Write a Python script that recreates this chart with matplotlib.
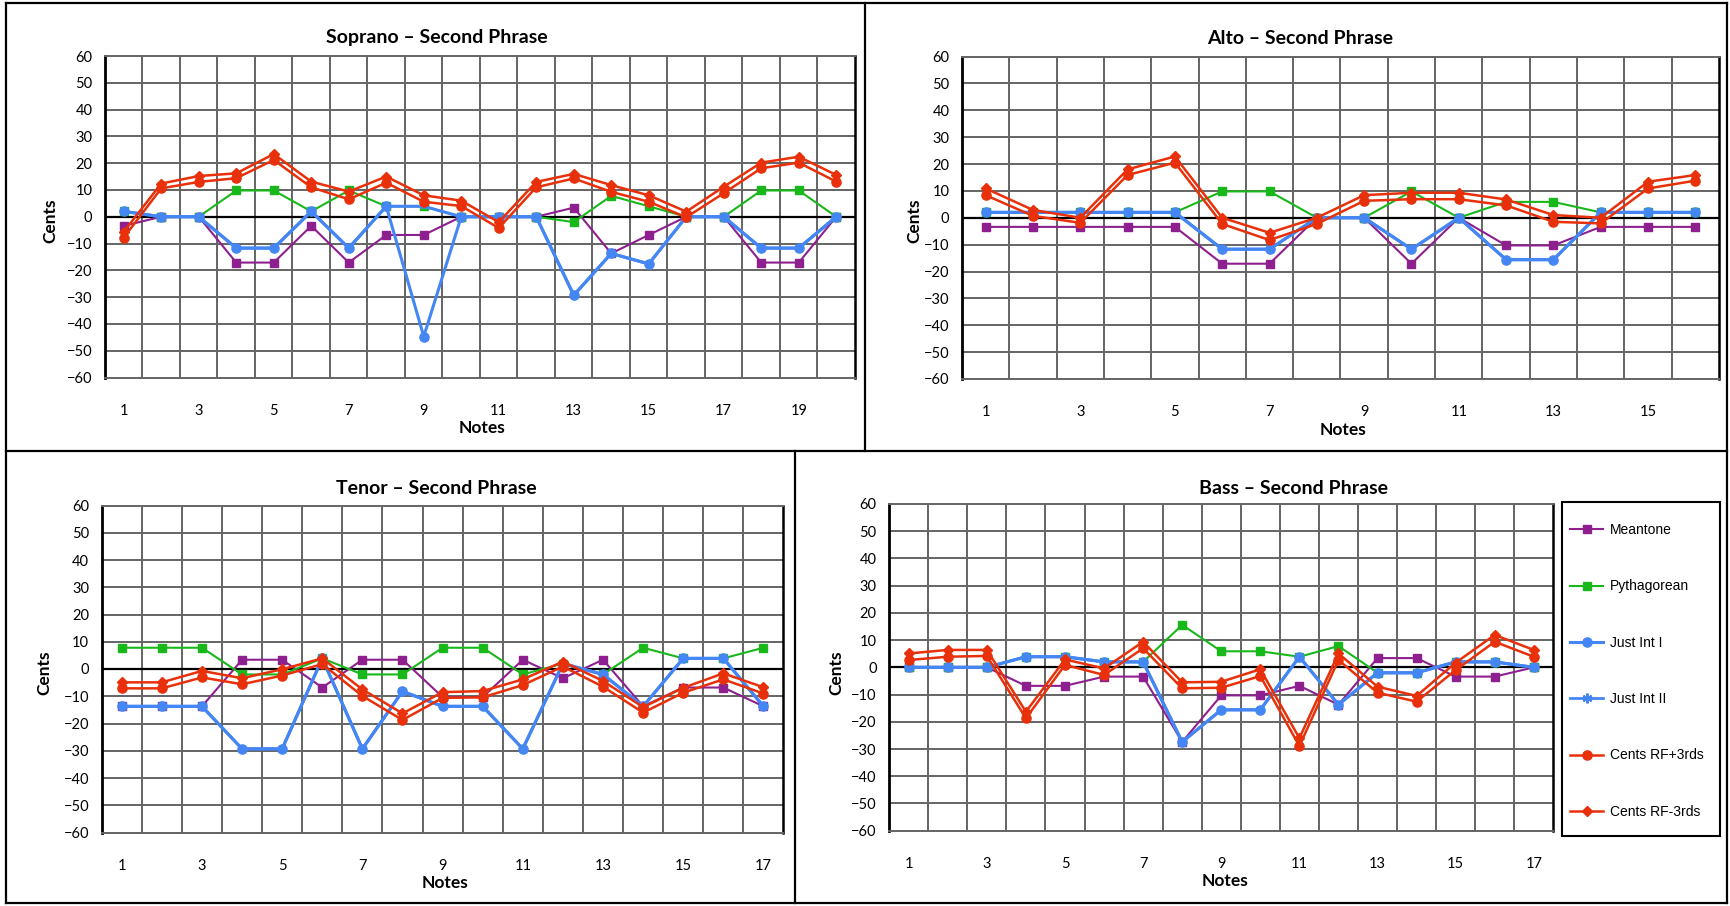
import matplotlib
matplotlib.use('Agg')
import matplotlib.pyplot as plt
from matplotlib.lines import Line2D
from matplotlib.patches import Rectangle

W, H = 1731, 906

series_names = ['Meantone', 'Pythagorean', 'Just Int I', 'Just Int II',
                'Cents RF+3rds', 'Cents RF-3rds']

# ---------------- Soprano (20 notes) ----------------
sop_meantone = [-3.4, 0, 0, -17.1, -17.1, -3.4, -17.1, -6.8, -6.8, 0,
                0, 0, 3.4, -13.7, -6.8, 0, 0, -17.1, -17.1, 0]
sop_pyth = [2, 0, 0, 9.8, 9.8, 2, 9.8, 3.9, 3.9, 0,
            0, 0, -2, 7.8, 3.9, 0, 0, 9.8, 9.8, 0]
sop_just1 = [2, 0, 0, -11.7, -11.7, 2, -11.7, 3.9, -44.7, 0,
             0, 0, -29.3, -13.7, -17.6, 0, 0, -11.7, -11.7, 0]
sop_just2 = [2, 0, 0, -11.7, -11.7, 2, -11.7, 3.9, 3.9, 0,
             0, 0, -29.3, -13.7, -17.6, 0, 0, -11.7, -11.7, 0]
sop_rf_plus = [-7.8, 10.6, 13.0, 14.4, 21.2, 11.0, 6.5, 12.7, 5.6, 4.0,
               -4.2, 11.0, 14.3, 9.3, 5.6, -0.2, 8.8, 18.1, 20.2, 13.1]
sop_rf_minus = [-5.6, 12.4, 15.2, 16.2, 23.4, 13.1, 9.4, 15.0, 8.0, 6.0,
                -2.0, 13.0, 16.0, 11.8, 8.0, 1.9, 11.2, 20.2, 22.4, 15.6]

# ---------------- Alto (16 notes) ----------------
alto_meantone = [-3.4, -3.4, -3.4, -3.4, -3.4, -17.1, -17.1, 0, 0, -17.1,
                 0, -10.3, -10.3, -3.4, -3.4, -3.4]
alto_pyth = [2, 2, 2, 2, 2, 9.8, 9.8, 0, 0, 9.8, 0, 5.9, 5.9, 2, 2, 2]
alto_just1 = [2, 2, 2, 2, 2, -11.7, -11.7, 0, 0, -11.7, 0, -15.6, -15.6, 2, 2, 2]
alto_just2 = [2, 2, 2, 2, 2, -11.7, -11.7, 0, 0, -11.7, 0, -15.6, -15.6, 2, 2, 2]
alto_rf_plus = [8.4, 0.7, -1.9, 15.9, 20.5, -2.3, -8.3, -2.3, 6.3, 6.9,
                6.9, 4.6, -1.5, -2.1, 10.9, 13.8]
alto_rf_minus = [10.9, 2.9, 0.0, 18.0, 22.8, 0.0, -5.6, 0.0, 8.4, 9.3,
                 9.3, 6.8, 1.0, 0.0, 13.4, 15.9]

# ---------------- Tenor (17 notes) ----------------
ten_meantone = [-13.7, -13.7, -13.7, 3.4, 3.4, -6.8, 3.4, 3.4, -10.3, -10.3,
                3.4, -3.4, 3.4, -13.7, -6.8, -6.8, -13.7]
ten_pyth = [7.8, 7.8, 7.8, -2, -2, 3.9, -2, -2, 7.8, 7.8,
            -2, 2, -2, 7.8, 3.9, 3.9, 7.8]
ten_just1 = [-13.7, -13.7, -13.7, -29.3, -29.3, 3.9, -29.3, -8.2, -13.7, -13.7,
             -29.3, 2, -2, -13.7, 3.9, 3.9, -13.7]
ten_just2 = [-13.7, -13.7, -13.7, -29.3, -29.3, 3.9, -29.3, -8.2, -13.7, -13.7,
             -29.3, 2, -2, -13.7, 3.9, 3.9, -13.7]
ten_rf_plus = [-7.1, -7.1, -3.1, -5.6, -2.4, 1.8, -9.9, -18.7, -10.6, -10.4,
               -5.9, 0.9, -6.5, -16.0, -8.7, -3.8, -9.0]
ten_rf_minus = [-4.9, -4.9, -0.7, -3.4, -0.1, 3.9, -7.5, -16.3, -8.5, -8.1,
                -3.8, 2.7, -4.4, -14.0, -6.9, -1.6, -6.7]

# ---------------- Bass (17 notes) ----------------
bass_meantone = [0, 0, 0, -6.8, -6.8, -3.4, -3.4, -27.4, -10.3, -10.3,
                 -6.8, -13.7, 3.4, 3.4, -3.4, -3.4, 0]
bass_pyth = [0, 0, 0, 3.9, 3.9, 2, 2, 15.6, 5.9, 5.9,
             3.9, 7.8, -2, -2, 2, 2, 0]
bass_just1 = [0, 0, 0, 3.9, 3.9, 2, 2, -27.4, -15.6, -15.6,
              3.9, -13.7, -2, -2, 2, 2, 0]
bass_just2 = [0, 0, 0, 3.9, 3.9, 2, 2, -27.4, -15.6, -15.6,
              3.9, -13.7, -2, -2, 2, 2, 0]
bass_rf_plus = [2.7, 3.9, 4.2, -18.7, 0.9, -2.8, 7.0, -7.7, -7.5, -3.2,
                -28.9, 2.7, -9.3, -12.6, -1.0, 9.4, 3.9]
bass_rf_minus = [5.1, 6.4, 6.4, -16.3, 2.9, -0.4, 9.4, -5.5, -5.3, -0.7,
                 -26.0, 5.1, -7.1, -10.5, 1.7, 11.9, 6.4]

y_ticks = [-60, -50, -40, -30, -20, -10, 0, 10, 20, 30, 40, 50, 60]

PURPLE = '#8E1F8E'
GREEN = '#19B81A'
BLUE = '#4486F4'
RED = '#E8300A'
GRID = '#646464'

styles = [
    dict(color=PURPLE, lw=1.5, marker='s', ms=5.8, zorder=3),
    dict(color=GREEN, lw=1.5, marker='s', ms=5.8, zorder=4),
    dict(color=BLUE, lw=2.2, marker='o', ms=6.6, zorder=5),
    dict(color=BLUE, lw=2.2, marker='x', ms=4.5, mew=1.5, zorder=6),
    dict(color=RED, lw=1.8, marker='o', ms=6.6, zorder=7),
    dict(color=RED, lw=1.8, marker='D', ms=4.8, zorder=8),
]

TITLE_FONT = dict(family=['Lato', 'DejaVu Sans'], fontsize=14, fontweight='bold')
LABEL_FONT = dict(family=['Lato', 'DejaVu Sans'], fontsize=12.5, fontweight='bold')
TICK_FAMILY = ['Lato', 'DejaVu Sans']

fig = plt.figure(figsize=(W / 100, H / 100), dpi=100)


def add_ax(l, t, r, b):
    return fig.add_axes([l / W, 1 - b / H, (r - l) / W, (b - t) / H])


def draw_panel(box, data, title, title_xy, notes_xy, cents_xy):
    ax = add_ax(*box)
    n = len(data[0])
    xs = list(range(1, n + 1))
    for vals, st in zip(data, styles):
        ax.plot(xs, vals, solid_joinstyle='round', **st)
    ax.set_xlim(0.5, n + 0.5)
    ax.set_ylim(-60, 60)
    for k in range(1, n):
        ax.axvline(k + 0.5, color=GRID, lw=1.4, zorder=1)
    for yv in y_ticks[1:-1]:
        if yv == 0:
            ax.axhline(0, color='black', lw=1.6, zorder=2)
        else:
            ax.axhline(yv, color=GRID, lw=1.4, zorder=1)
    ax.set_yticks(y_ticks)
    ax.set_xticks(xs[::2])
    ax.tick_params(axis='both', length=0, labelsize=10.5)
    ax.tick_params(axis='y', pad=9)
    ax.tick_params(axis='x', pad=19)
    for lab in ax.get_xticklabels() + ax.get_yticklabels():
        lab.set_family(TICK_FAMILY)
    ax.spines['left'].set_color('black')
    ax.spines['left'].set_linewidth(2.0)
    ax.spines['right'].set_color('black')
    ax.spines['right'].set_linewidth(1.8)
    ax.spines['top'].set_color(GRID)
    ax.spines['top'].set_linewidth(1.4)
    ax.spines['bottom'].set_color(GRID)
    ax.spines['bottom'].set_linewidth(1.4)
    fig.text(title_xy[0] / W, 1 - title_xy[1] / H, title, ha='center',
             va='center', **TITLE_FONT)
    fig.text(notes_xy[0] / W, 1 - notes_xy[1] / H, 'Notes', ha='center',
             va='center', **LABEL_FONT)
    fig.text(cents_xy[0] / W, 1 - cents_xy[1] / H, 'Cents', ha='center',
             va='center', rotation=90, **LABEL_FONT)
    return ax


draw_panel((105, 56, 855, 377.5),
           [sop_meantone, sop_pyth, sop_just1, sop_just2, sop_rf_plus, sop_rf_minus],
           'Soprano \u2013 Second Phrase', (437, 38), (482, 428), (50, 221))
draw_panel((962, 56.5, 1719, 379),
           [alto_meantone, alto_pyth, alto_just1, alto_just2, alto_rf_plus, alto_rf_minus],
           'Alto \u2013 Second Phrase', (1300, 38), (1343, 430), (914, 221))
draw_panel((101.7, 505.5, 783.5, 832.5),
           [ten_meantone, ten_pyth, ten_just1, ten_just2, ten_rf_plus, ten_rf_minus],
           'Tenor \u2013 Second Phrase', (436, 488), (445, 883), (44, 673))
ax_bass = draw_panel((889.2, 504, 1553.3, 830.7),
                     [bass_meantone, bass_pyth, bass_just1, bass_just2, bass_rf_plus, bass_rf_minus],
                     'Bass \u2013 Second Phrase', (1294, 488), (1225, 881), (836, 673))

# Legend
handles = [Line2D([], [], **{k: v for k, v in st.items() if k != 'zorder'})
           for st in styles]
handles[3] = Line2D([], [], color=BLUE, lw=2.0, marker=(6, 2, 0), ms=7, mew=1.6)
leg = fig.legend(handles, series_names, loc='upper left',
                 bbox_to_anchor=(1570 / W, 1 - 523 / H), borderaxespad=0,
                 borderpad=0, frameon=False, handlelength=2.4,
                 handletextpad=0.5, labelspacing=3.05,
                 prop=dict(family=['Liberation Sans'], size=10))
fig.add_artist(Rectangle((1562 / W, 1 - 836 / H), (1720 - 1562) / W,
                         (836 - 502) / H, transform=fig.transFigure,
                         fill=False, edgecolor='black', lw=1.5))

# Panel borders
def fline(x0, y0, x1, y1):
    fig.add_artist(Line2D([x0 / W, x1 / W], [1 - y0 / H, 1 - y1 / H],
                          transform=fig.transFigure, color='black', lw=1.6))

fline(6, 3, 1727, 3)
fline(6, 903, 1727, 903)
fline(6, 3, 6, 903)
fline(1727, 3, 1727, 903)
fline(6, 451, 1727, 451)
fline(865, 3, 865, 451)
fline(795, 451, 795, 903)

fig.savefig('out.png', dpi=100)
